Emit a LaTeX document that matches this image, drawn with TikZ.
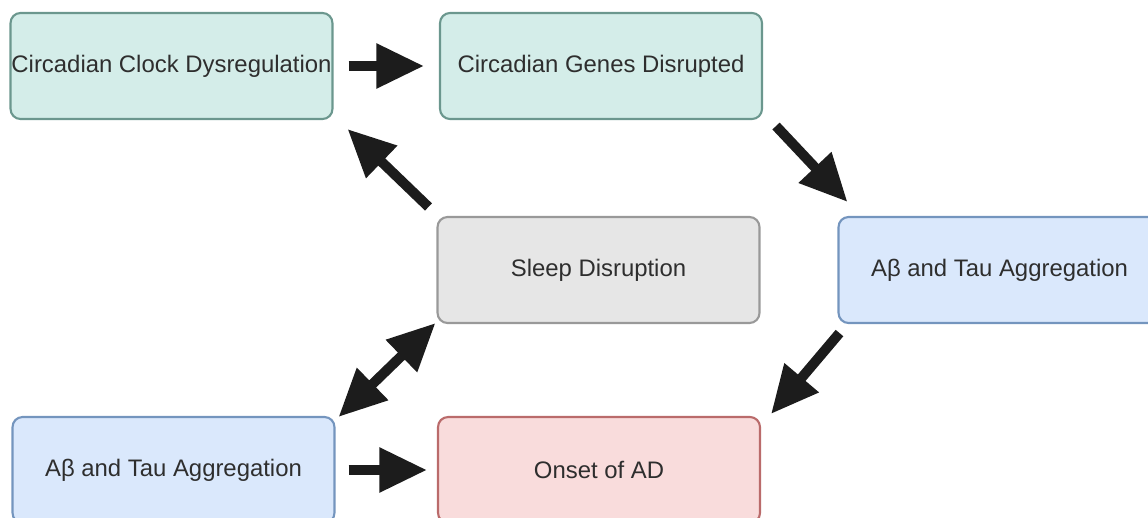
\documentclass[tikz,border=0pt]{standalone}
\usepackage{fontspec}
\setmainfont{Liberation Sans}
\usepackage{tikz}
\usetikzlibrary{arrows.meta}
\definecolor{TealFill}{HTML}{D4EDE9}
\definecolor{TealLine}{HTML}{6B978E}
\definecolor{GrayFill}{HTML}{E6E6E6}
\definecolor{GrayLine}{HTML}{999999}
\definecolor{BlueFill}{HTML}{DAE8FC}
\definecolor{BlueLine}{HTML}{7495BE}
\definecolor{RedFill}{HTML}{F9DCDC}
\definecolor{RedLine}{HTML}{BA6B6B}
\definecolor{TextGray}{HTML}{2E2E2E}
\definecolor{ArrowBlack}{HTML}{1C1C1C}
\tikzset{box/.style={rectangle, rounded corners=0.2cm, line width=1.2pt,
  minimum width=6.44cm, minimum height=2.12cm, inner sep=0pt,
  text=TextGray, font=\fontsize{13.6}{16}\selectfont},
  tealbox/.style={box, draw=TealLine, fill=TealFill},
  graybox/.style={box, draw=GrayLine, fill=GrayFill},
  bluebox/.style={box, draw=BlueLine, fill=BlueFill},
  redbox/.style={box, draw=RedLine, fill=RedFill},
  bigarrow/.style={draw=ArrowBlack, line width=0.2cm,
    -{Triangle[length=0.95cm,width=0.85cm]}},
  twoarrow/.style={draw=ArrowBlack, line width=0.2cm,
    {Triangle[length=0.95cm,width=0.85cm]}-{Triangle[length=0.95cm,width=0.85cm]}}}

\begin{document}
\begin{tikzpicture}[x=0.02cm, y=-0.02cm]
\useasboundingbox (0,0) rectangle (1148,517);

\node[tealbox] (clock) at (171.5,66) {Circadian Clock Dysregulation};
\node[tealbox] (genes) at (601,66) {Circadian Genes Disrupted};
\node[graybox] (sleep) at (598.5,270) {Sleep Disruption};
\node[bluebox] (aggright) at (999.5,270) {Aβ and Tau Aggregation};
\node[bluebox] (aggleft) at (173.5,470) {Aβ and Tau Aggregation};
\node[redbox] (onset) at (599,470) {Onset of AD};

\draw[bigarrow, shorten <=0.3cm, shorten >=0.3cm] (clock) -- (genes);
\draw[bigarrow] ([shift={(13,6)}]genes.south east) -- ([shift={(10,-14)}]aggright.north west);
\draw[bigarrow] ([shift={(2,9)}]aggright.south west) -- ([shift={(10,-2)}]onset.north east);
\draw[bigarrow] ([shift={(-8,-9)}]sleep.north west) -- ([shift={(14,9)}]clock.south east);
\draw[twoarrow] ([shift={(-1,-1)}]sleep.south west) -- ([shift={(3,1)}]aggleft.north east);
\draw[bigarrow, shorten <=0.26cm, shorten >=0.2cm] (aggleft) -- (onset);
\end{tikzpicture}
\end{document}
